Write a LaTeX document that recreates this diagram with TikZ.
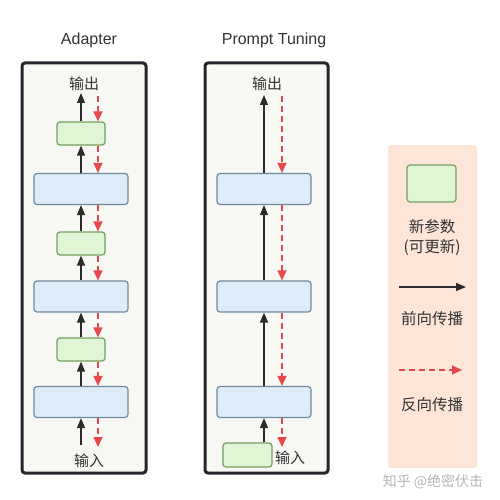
\documentclass[tikz,border=0pt]{standalone}
\usepackage{fontspec}
\setmainfont{Noto Sans CJK SC}
\newfontfamily\titlefont{Liberation Sans}
\usepackage{tikz}
\usetikzlibrary{arrows.meta,positioning,calc}
\usepackage{xcolor}
\definecolor{framecol}{HTML}{23272B}
\definecolor{panelfill}{HTML}{F7F7F3}
\definecolor{bluefill}{HTML}{DEECF7}
\definecolor{blueline}{HTML}{6F8AA0}
\definecolor{greenfill}{HTML}{E0F5D6}
\definecolor{greenline}{HTML}{73A05E}
\definecolor{arrowcol}{HTML}{2B2B2B}
\definecolor{redarr}{HTML}{E5484D}
\definecolor{legendfill}{HTML}{FDE6D8}
\definecolor{textcol}{HTML}{333333}
\definecolor{markcol}{HTML}{B5B5B5}

\begin{document}
\begin{tikzpicture}[x=1pt,y=-1pt,
		panel/.style={draw=framecol, line width=3pt, fill=panelfill, rounded corners=3pt, minimum height=410pt},
		layer/.style={draw=blueline, fill=bluefill, line width=1.2pt, rounded corners=3pt, minimum width=94pt, minimum height=31pt},
		newparam/.style={draw=greenline, fill=greenfill, line width=1.2pt, rounded corners=3pt, minimum width=48pt, minimum height=23pt},
		lbl/.style={text=textcol, font=\fontsize{15pt}{18pt}\selectfont, inner sep=0pt},
		title/.style={text=textcol, font=\titlefont\fontsize{16pt}{19pt}\selectfont},
		fwd/.style={draw=arrowcol, line width=1.3pt, -{Triangle[length=10pt,width=8pt]}},
		bwd/.style={draw=redarr, line width=1.4pt, dash pattern=on 6pt off 4pt, -{Triangle[length=10pt,width=9pt]}}]
	\useasboundingbox (0,0) rectangle (500,500);

	% Adapter
	\node[title] (adtitle) at (89,40) {Adapter};
	\node[panel, minimum width=124pt] (adpanel) at (84,268) {};
	\node[newparam] (adp1) at (81,133.5) {};
	\node[layer] (adl1) at (81,189) {};
	\node[newparam] (adp2) at (81,243.5) {};
	\node[layer] (adl2) at (81,296.5) {};
	\node[newparam] (adp3) at (81,349.5) {};
	\node[layer] (adl3) at (81,402) {};
	\node[lbl] (adout) at (84,84) {输出};
	\node[lbl] (adin) at (89,461) {输入};
	\coordinate (adtop) at (81,93);
	\coordinate (adbot) at (81,445);
	\coordinate (adrtop) at (98,96);
	\coordinate (adrbot) at (98,447);
	\foreach \a/\b in {adbot/adl3.south, adl3.north/adp3.south, adp3.north/adl2.south,
			adl2.north/adp2.south, adp2.north/adl1.south, adl1.north/adp1.south, adp1.north/adtop}
		\draw[fwd] (\a) -- (\b);
	\draw[bwd] (adrtop) -- ([xshift=17pt]adp1.north);
	\foreach \a/\b in {adp1/adl1, adl1/adp2, adp2/adl2, adl2/adp3, adp3/adl3}
		\draw[bwd] ([xshift=17pt]\a.south) -- ([xshift=17pt]\b.north);
	\draw[bwd] ([xshift=17pt]adl3.south) -- (adrbot);

	% Prompt Tuning
	\node[title] (pttitle) at (274,40) {Prompt Tuning};
	\node[panel, minimum width=123pt] (ptpanel) at (266.5,268) {};
	\node[layer] (ptl1) at (264,189) {};
	\node[layer] (ptl2) at (264,296.5) {};
	\node[layer] (ptl3) at (264,402) {};
	\node[newparam, minimum width=49pt, minimum height=24pt] (ptp) at (247.5,455) {};
	\node[lbl] (ptout) at (267,84) {输出};
	\node[lbl] (ptin) at (290,457.5) {输入};
	\coordinate (pttop) at (264,95);
	\coordinate (ptrtop) at (282,96);
	\coordinate (ptrbot) at (282,447);
	\draw[fwd] ([xshift=16.5pt]ptp.north) -- (ptl3.south);
	\draw[fwd] (ptl3.north) -- (ptl2.south);
	\draw[fwd] (ptl2.north) -- (ptl1.south);
	\draw[fwd] (ptl1.north) -- (pttop);
	\draw[bwd] (ptrtop) -- ([xshift=18pt]ptl1.north);
	\draw[bwd] ([xshift=18pt]ptl1.south) -- ([xshift=18pt]ptl2.north);
	\draw[bwd] ([xshift=18pt]ptl2.south) -- ([xshift=18pt]ptl3.north);
	\draw[bwd] ([xshift=18pt]ptl3.south) -- (ptrbot);

	% legend
	\node[fill=legendfill, rounded corners=3pt, minimum width=89pt, minimum height=323pt] (legend) at (432.5,306.5) {};
	\node[newparam, minimum width=49pt, minimum height=37pt] (lgp) at (431.5,183.5) {};
	\node[lbl, align=center, font=\fontsize{15.5pt}{20pt}\selectfont] (lgptext) at (432,237) {新参数\\(可更新)};
	\coordinate (lgfa) at (399,287);
	\coordinate (lgfb) at (466,287);
	\draw[fwd] (lgfa) -- (lgfb);
	\node[lbl, font=\fontsize{15.5pt}{18pt}\selectfont] (lgftext) at (432,319) {前向传播};
	\coordinate (lgba) at (399,370);
	\coordinate (lgbb) at (462,370);
	\draw[bwd] (lgba) -- (lgbb);
	\node[lbl, font=\fontsize{15.5pt}{18pt}\selectfont] (lgbtext) at (432,405) {反向传播};
	\node[lbl, text=markcol, font=\fontsize{14pt}{17pt}\selectfont] (mark) at (433,482) {知乎 @绝密伏击};
\end{tikzpicture}
\end{document}
